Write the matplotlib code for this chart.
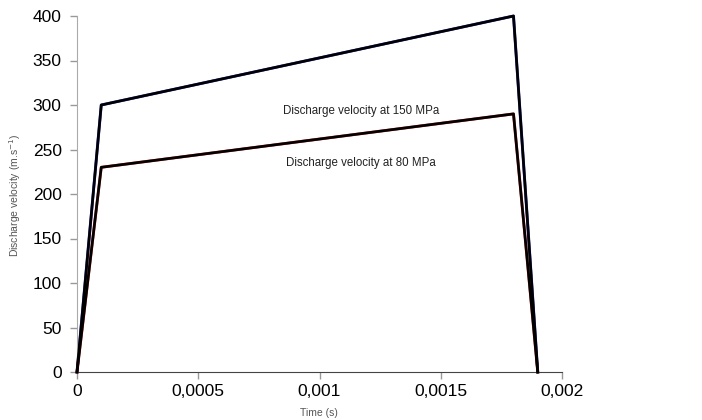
import matplotlib.pyplot as plt

# Discharge velocity vs time for two pressures
time = [0, 0.0001, 0.0018, 0.0019]
v_150 = [0, 300, 400, 0]
v_80 = [0, 230, 290, 0]
xticks = [0, 0.0005, 0.001, 0.0015, 0.002]
xlabels = ["0", "0,0005", "0,001", "0,0015", "0,002"]
yticks = [0, 50, 100, 150, 200, 250, 300, 350, 400]

plt.rcParams["font.family"] = ["Liberation Sans", "DejaVu Sans"]

fig = plt.figure(figsize=(7.02, 4.2), dpi=100)
ax = fig.add_axes([77 / 702, 1 - 372 / 420, 485 / 702, 356 / 420])

# faint coloured underlay as in the original export
ax.plot(time, v_150, color="#3030c0", lw=2.1, zorder=2, clip_on=False)
ax.plot(time, v_80, color="#d03030", lw=2.1, zorder=2, clip_on=False)
ax.plot(time, v_150, color="black", lw=1.9, zorder=3, clip_on=False)
ax.plot(time, v_80, color="black", lw=1.9, zorder=3, clip_on=False)

ax.set_xlim(0, 0.002)
ax.set_ylim(0, 400)
ax.set_xticks(xticks)
ax.set_xticklabels(xlabels)
ax.set_yticks(yticks)
ax.tick_params(labelsize=12.5, length=5, color="#999999", width=1)
ax.tick_params(axis="x", pad=4)
ax.tick_params(axis="y", pad=6)

for s in ["top", "right"]:
    ax.spines[s].set_visible(False)
ax.spines["left"].set_color("#aaaaaa")
ax.spines["bottom"].set_color("#444444")

# axis titles placed in figure pixels
fig.text(15 / 702, 1 - 195 / 420, "Discharge velocity (m.s$^{-1}$)", fontsize=7.5,
         color="#555555", rotation=90, ha="center", va="center")
fig.text(319 / 702, 1 - 413 / 420, "Time (s)", fontsize=7.5,
         color="#555555", ha="center", va="center")

ax.text(0.00117, 293, "Discharge velocity at 150 MPa", fontsize=8.3,
        ha="center", va="center", color="#222222")
ax.text(0.00117, 235, "Discharge velocity at 80 MPa", fontsize=8.3,
        ha="center", va="center", color="#222222")

fig.savefig("out.png", dpi=100)
